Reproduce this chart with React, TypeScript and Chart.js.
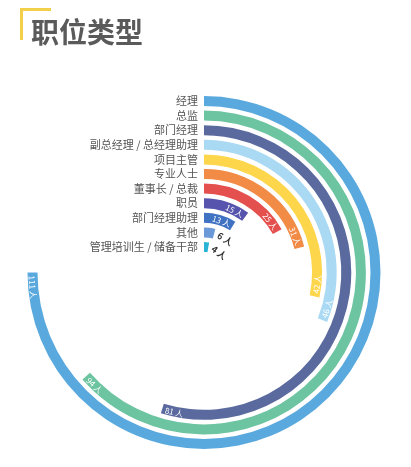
import React, { useEffect, useRef } from "react";
import { Chart, registerables } from "chart.js";

Chart.register(...registerables);

const categories = [
  "经理",
  "总监",
  "部门经理",
  "副总经理 / 总经理助理",
  "项目主管",
  "专业人士",
  "董事长 / 总裁",
  "职员",
  "部门经理助理",
  "其他",
  "管理培训生 / 储备干部",
];
const counts = [111, 94, 81, 46, 42, 31, 25, 15, 13, 6, 4];
const colors = [
  "#5aa9de",
  "#6cc4a1",
  "#5a6a9f",
  "#a9d9f3",
  "#fdd64b",
  "#f18b45",
  "#e4504e",
  "#5654ad",
  "#3f72c2",
  "#6c9ad8",
  "#2ab3d5",
];
const scaleMax = 148;
const unit = "人";

const FONT = "'Noto Sans CJK SC', 'Noto Sans', sans-serif";

const labelPlugin = {
  id: "radialLabels",
  afterDatasetsDraw(chart: any) {
    const ctx = chart.ctx;
    ctx.save();
    chart.data.datasets.forEach((ds: any, i: number) => {
      if (ds.isSpacer) return;
      const meta = chart.getDatasetMeta(i);
      const arc: any = meta.data[0];
      if (!arc) return;
      const { x, y, endAngle, innerRadius, outerRadius } = arc.getProps(
        ["x", "y", "endAngle", "innerRadius", "outerRadius"],
        true
      );
      const r = (innerRadius + outerRadius) / 2;
      const idx = ds.catIndex;
      // category label
      ctx.font = `11px ${FONT}`;
      ctx.fillStyle = "#555";
      ctx.textAlign = "right";
      ctx.textBaseline = "middle";
      ctx.fillText(categories[idx], x - 6, y - r);

      // value label
      const text = `${counts[idx]} ${unit}`;
      const theta = endAngle + Math.PI / 2;
      const pad = 3;
      ctx.font = `8px ${FONT}`;
      let w = ctx.measureText(text).width;
      const inside = theta * r > w + 2 * pad + 2;
      let alpha: number;
      if (inside) {
        alpha = theta - (pad + w / 2) / r;
        ctx.fillStyle = "#ffffff";
      } else {
        ctx.font = `bold 9px ${FONT}`;
        w = ctx.measureText(text).width;
        alpha = theta + (pad + 1 + w / 2) / r;
        ctx.fillStyle = "#333333";
      }
      const px = x + r * Math.sin(alpha);
      const py = y - r * Math.cos(alpha);
      let rot = alpha;
      if (alpha > Math.PI / 2 && alpha < (3 * Math.PI) / 2) rot = alpha - Math.PI;
      ctx.save();
      ctx.translate(px, py);
      ctx.rotate(rot);
      ctx.textAlign = "center";
      ctx.textBaseline = "middle";
      ctx.fillText(text, 0, 0.5);
      ctx.restore();
    });
    ctx.restore();
  },
};

export default function App() {
  const ref = useRef<HTMLCanvasElement>(null);

  useEffect(() => {
    if (!ref.current) return;
    const datasets: any[] = [];
    counts.forEach((v, i) => {
      if (i > 0) {
        datasets.push({
          data: [scaleMax],
          backgroundColor: ["rgba(0,0,0,0)"],
          borderWidth: 0,
          weight: 0.46,
          isSpacer: true,
        });
      }
      datasets.push({
        data: [v, scaleMax - v],
        backgroundColor: [colors[i], "rgba(0,0,0,0)"],
        borderWidth: 0,
        weight: 1,
        catIndex: i,
        isSpacer: false,
      });
    });
    const chart = new Chart(ref.current, {
      type: "doughnut",
      data: { labels: ["value", "rest"], datasets },
      options: {
        animation: false,
        responsive: false,
        events: [],
        cutout: "11.6%",
        radius: 176.5,
        layout: { padding: { left: 19.5, right: 22.5, top: 88, bottom: 9 } },
        plugins: {
          legend: { display: false },
          tooltip: { enabled: false },
          title: { display: false },
        },
      },
      plugins: [labelPlugin],
    });
    return () => chart.destroy();
  }, []);

  return (
    <div style={{ position: "relative", width: 395, height: 450 }}>
      <div
        style={{
          position: "absolute",
          left: 12,
          top: 0,
          width: 28,
          height: 29,
          borderLeft: "3px solid #f3cf4a",
          borderTop: "3px solid #f3cf4a",
        }}
      />
      <div
        style={{
          position: "absolute",
          left: 23,
          top: 8,
          fontFamily: FONT,
          fontWeight: 700,
          fontSize: 28,
          lineHeight: "30px",
          color: "#5a5a5a",
          letterSpacing: 0,
        }}
      >
        职位类型
      </div>
      <canvas
        ref={ref}
        width={395}
        height={450}
        style={{ display: "block", width: 395, height: 450 }}
      />
    </div>
  );
}
